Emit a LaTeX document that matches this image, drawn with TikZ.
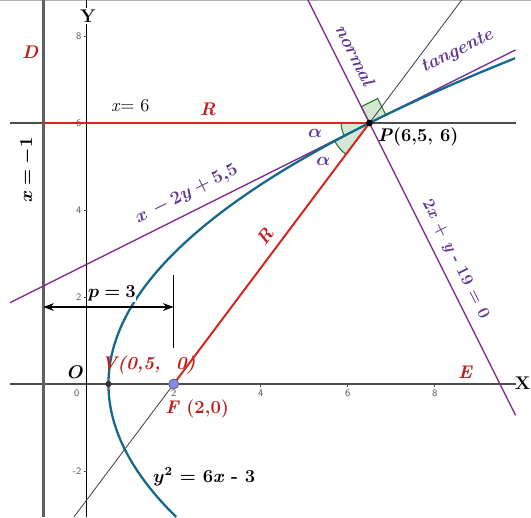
\documentclass[tikz,border=0pt]{standalone}
\usepackage{amsmath}
\usepackage{bm}
\usetikzlibrary{arrows.meta,calc}
\definecolor{purp}{RGB}{125,45,140}
\definecolor{purptext}{RGB}{95,55,150}
\definecolor{tealc}{RGB}{20,105,140}
\definecolor{redl}{RGB}{212,40,30}
\definecolor{redt}{RGB}{190,30,30}
\definecolor{angfill}{RGB}{212,230,212}
\definecolor{angdraw}{RGB}{40,120,40}
\definecolor{fpt}{RGB}{135,135,240}
\definecolor{tickc}{RGB}{90,90,90}
\begin{document}
\begin{tikzpicture}[x=1cm,y=1cm,
  axisline/.style={draw=black!70, line width=0.8pt},
  ticklbl/.style={font=\sffamily\fontsize{6.5}{7}\selectfont, text=tickc, inner sep=1pt},
  purpline/.style={draw=purp, line width=0.9pt},
  redline/.style={draw=redl, line width=1.3pt},
  redlbl/.style={text=redt, font=\fontsize{12}{14}\selectfont\bfseries\itshape},
  purplbl/.style={text=purptext, font=\fontsize{12}{14}\selectfont\bfseries\itshape},
  blacklbl/.style={text=black, font=\fontsize{12}{14}\selectfont\bfseries},
  angsec/.style={fill=angfill, draw=angdraw, line width=0.7pt},
]
\useasboundingbox (-1.9931,-3.0575) rectangle (10.2138,8.8276);
% key points
\coordinate (O) at (0,0);
\coordinate (F) at (2,0);
\coordinate (V) at (0.5,0);
\coordinate (P) at (6.5,6);
\coordinate (D) at (-1,6);
\coordinate (Xl) at (-1.763,0);
\coordinate (Xr) at (9.86,0);
\coordinate (Yb) at (0,-3.0575);
\coordinate (Yt) at (0,8.8276);
\coordinate (Dt) at (-1,8.8276);
\coordinate (Db) at (-1,-3.0575);
\coordinate (Hl) at (-1.763,6);
\coordinate (Hr) at (9.86,6);
\coordinate (Tl) at (-1.763,1.8685);
\coordinate (Tr) at (9.86,7.68);
\coordinate (Nt) at (5.086,8.8276);
\coordinate (Nb) at (9.86,-0.72);
\coordinate (Lb) at (-0.2931,-3.0575);
\coordinate (Lt) at (8.6207,8.8276);
\coordinate (TopL) at (-1.9931,8.81);
\coordinate (TopR) at (10.2138,8.81);
% top border
\draw[gray!60, line width=0.8pt] (TopL) -- (TopR);
% axes
\draw[axisline] (Xl) -- (Xr);
\draw[draw=black, line width=0.6pt] (Yb) -- (Yt);
\draw[axisline] (Hl) -- (Hr);
% ticks
\foreach \v in {-2,2,4,6,8}{
  \draw[black!70, line width=0.5pt] (-0.07,\v) -- (0,\v);
  \node[ticklbl, anchor=east] at (-0.08,\v) {\v};
}
\foreach \v in {2,4,6,8}{
  \draw[black!70, line width=0.5pt] (\v,0) -- (\v,-0.07);
  \node[ticklbl, anchor=north] at (\v,-0.09) {\v};
}
\node[ticklbl] (t0) at (-0.23,-0.21) {0};
% directrix
\draw[draw=gray!75!black, line width=2pt] (Db) -- (Dt);
% angle sectors
\path[angsec] (P) -- ++(180:0.65) arc[start angle=180, end angle=206.565, radius=0.65] -- cycle;
\path[angsec] (P) -- ++(206.565:0.9) arc[start angle=206.565, end angle=233.13, radius=0.9] -- cycle;
\path[angsec] (P) -- ++(26.565:0.42) -- ++(116.565:0.42) -- ++(206.565:0.42) -- cycle;
% thin line through F and P
\draw[black!80, line width=0.5pt] (Lb) -- (Lt);
% tangent and normal
\draw[purpline] (Tl) -- (Tr);
\draw[purpline] (Nt) -- (Nb);
% parabola
\draw[draw=tealc, line width=1.5pt] plot[domain=-3.0575:7.49, samples=120, smooth] ({(\x*\x+3)/6},{\x});
% red radii
\draw[redline] (D) -- (P);
\draw[redline] (F) -- (P);
% dimension p = 3
\coordinate (A1) at (-1,1.77);
\coordinate (A2) at (2,1.77);
\coordinate (M1) at (2,2.51);
\coordinate (M2) at (2,0.83);
\draw[black, line width=0.6pt] (M1) -- (M2);
\draw[black, line width=1pt, {Stealth[length=7pt,width=5pt]}-{Stealth[length=7pt,width=5pt]}] (A1) -- (A2);
% points
\fill[black!80] (V) circle (2pt);
\filldraw[fill=fpt, draw=black!60, line width=0.5pt] (F) circle (3.3pt);
\fill[black] (P) circle (2.2pt);
% labels
\node[blacklbl, fill=white, inner sep=1pt] (ylab) at (0.03,8.46) {Y};
\node[blacklbl] (xlab) at (10.02,0.02) {X};
\node[redlbl] (dlab) at (-1.30,7.63) {D};
\node[redlbl] (elab) at (8.70,0.28) {E};
\node[redlbl] (r1) at (2.79,6.32) {R};
\node[redlbl, rotate=53.13] (r2) at (4.10,3.38) {R};
\node[font=\fontsize{12}{14}\selectfont] (x6) at (1.0,6.41) {\textit{x}= 6};
\node[blacklbl, rotate=90] (xm1) at (-1.36,4.92) {$\bm{x=-1}$};
\node[blacklbl] (olab) at (-0.25,0.28) {$\bm{O}$};
\node[redlbl] (vlab) at (1.42,0.44) {V(0,5,\ \ 0)};
\node[redlbl] (flab) at (2.54,-0.57) {F \upshape(2,0)};
\node[blacklbl] (eq) at (2.70,-2.14) {$\bm{y}^{\mathbf{2}}$ = 6\textit{x} - 3};
\node[blacklbl, fill=white, inner sep=0.5pt] (plab) at (0.58,2.09) {$\bm{p=3}$};
\node[blacklbl] (plabel) at (7.62,5.68) {\textit{P}(6,5, 6)};
\node[purplbl] (a1) at (5.25,5.77) {$\bm{\alpha}$};
\node[purplbl] (a2) at (5.44,5.11) {$\bm{\alpha}$};
\node[purplbl, rotate=-63.435] (nlab) at (6.17,7.56) {normal};
\node[purplbl, rotate=26.565] (tlab) at (8.52,7.64) {tangente};
\node[purplbl, rotate=26.565] (tanq) at (2.30,4.36) {$\bm{x\,-2y+5{,}5}$};
\node[text=purptext, font=\fontsize{11}{13}\selectfont\bfseries, rotate=-63.435] (nq) at (8.47,2.87) {2\textit{x} + \textit{y} - 19 = 0};
\end{tikzpicture}
\end{document}
